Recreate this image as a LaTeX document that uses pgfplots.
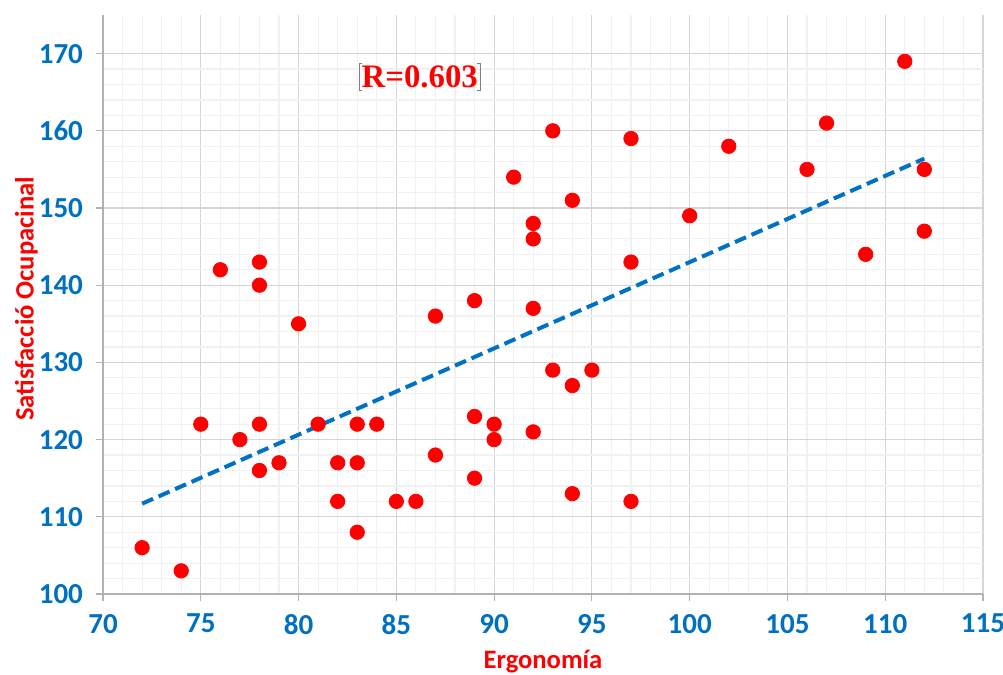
\documentclass[border=0pt]{standalone}
\usepackage{pgfplots}
\pgfplotsset{compat=1.18}
\usepackage{fontspec}
\setmainfont{Carlito}
\newfontfamily\timesfont{Liberation Serif}
\definecolor{xlblue}{RGB}{0,112,192}
\definecolor{xlred}{RGB}{255,0,0}
\definecolor{trend}{RGB}{0,114,198}

\begin{document}
\begin{tikzpicture}
\useasboundingbox (-51.5pt,-40.5pt) rectangle (450pt,297pt);
\begin{axis}[
    scale only axis,
    width=440pt, height=289.5pt,
    xmin=70, xmax=115,
    ymin=100, ymax=175,
    xtick={70,75,...,115},
    ytick={100,110,...,170},
    minor x tick num=4,
    minor y tick num=4,
    grid=both,
    major grid style={gray!33, line width=0.6pt},
    minor grid style={gray!11, line width=0.6pt},
    axis x line=bottom, axis y line=left,
    axis line style={-, gray!60, line width=0.6pt},
    tick align=outside,
    major tick length=3.5pt, minor tick length=0pt,
    tick style={gray!60, line width=0.6pt},
    ticklabel style={font=\fontsize{14.5}{16}\selectfont\bfseries, text=xlblue},
    xticklabel style={yshift=-3pt},
    yticklabel style={xshift=-3pt},
    /pgf/number format/assume math mode=true,
    xlabel={Ergonomía}, ylabel={Satisfacció Ocupacinal},
    label style={font=\fontsize{13.3}{15}\selectfont\bfseries, text=xlred},
    xlabel style={at={(axis description cs:0.5,-0.116)}, anchor=center},
    ylabel style={at={(axis description cs:-0.087,0.51)}, anchor=center},
    clip=false,
]
\addplot[only marks, mark=*, mark size=3.6pt, color=xlred] coordinates {
    (72,106) (74,103) (75,122) (76,142) (77,120)
    (78,143) (78,140) (78,122) (78,116) (79,117)
    (80,135) (81,122) (82,117) (82,112) (83,122)
    (83,117) (83,108) (84,122) (85,112) (86,112)
    (87,136) (87,118) (89,138) (89,123) (89,115)
    (90,122) (90,120) (91,154) (92,148) (92,146)
    (92,137) (92,121) (93,160) (93,129) (94,151)
    (94,127) (94,113) (95,129) (97,159) (97,143)
    (97,112) (100,149) (102,158) (106,155) (107,161)
    (109,144) (111,169) (112,155) (112,147)
};
\addplot[trend, line width=2pt, dash pattern=on 6pt off 3pt] coordinates {
    (72,111.7) (112,156.4)
};
\node[font=\timesfont\fontsize{16.4}{18}\selectfont\bfseries, text=xlred, inner sep=1pt]
    (rlab) at (axis cs:86.2,167) {R=0.603};
\draw[gray, line width=0.4pt] ([xshift=1.5pt]rlab.north west) -- (rlab.north west) -- (rlab.south west) -- ([xshift=1.5pt]rlab.south west);
\draw[gray, line width=0.4pt] ([xshift=-1.5pt]rlab.north east) -- (rlab.north east) -- (rlab.south east) -- ([xshift=-1.5pt]rlab.south east);
\end{axis}
\end{tikzpicture}
\end{document}
